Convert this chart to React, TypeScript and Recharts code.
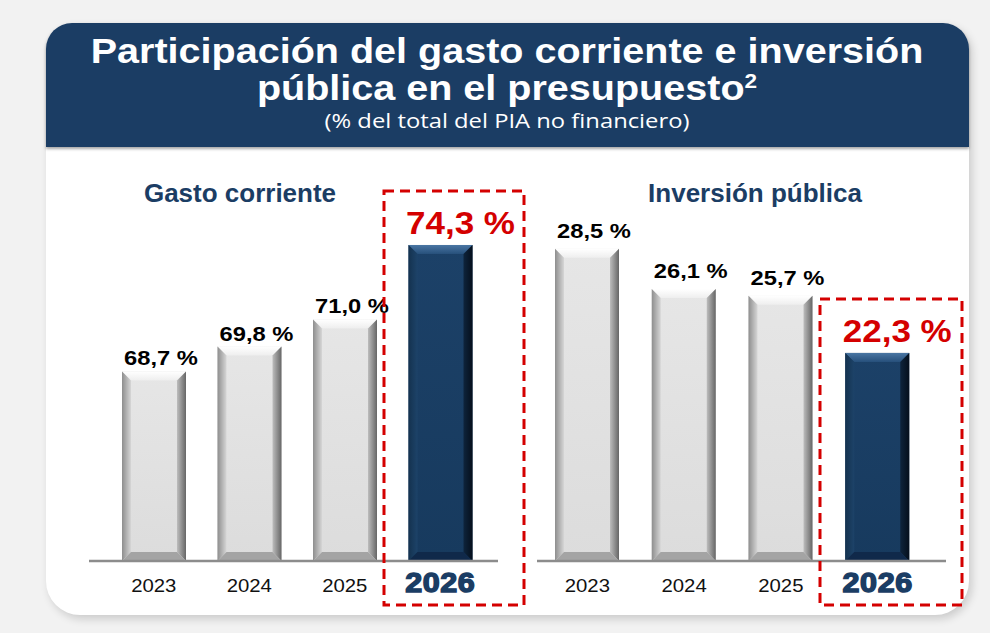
import React from 'react'
import { BarChart, Bar, XAxis, YAxis, LabelList } from 'recharts'

const years = ['2023', '2024', '2025', '2026']
const gastoCorriente = [68.7, 69.8, 71.0, 74.3]
const inversionPublica = [28.5, 26.1, 25.7, 22.3]
const highlightYear = '2026'

const NAVY = '#1b3d64'
const RED = '#d40000'
const FONT = '"Liberation Sans", Arial, sans-serif'
// the source slide is a bit stretched horizontally
const STRETCH = 1.13

const gastoData = years.map((year, i) => ({ year, value: gastoCorriente[i] }))
const inversionData = years.map((year, i) => ({ year, value: inversionPublica[i] }))

const fmt = (v: number) => v.toFixed(1).replace('.', ',') + ' %'

function BevelBar(props: any) {
  const { x, y, width: w, height: h, payload } = props
  if (w == null || h == null || h <= 0) return null
  const hi = payload.year === highlightYear
  const b = 9
  const id = `bv-${hi ? 'n' : 'g'}-${Math.round(x)}`
  const c = hi
    ? { face: '#1c4168', faceB: '#173a5e', top1: '#4a76a3', top2: '#27507b', left1: '#14324f', left2: '#1d4369', right1: '#0e243c', right2: '#050f1c', bot: '#10294a' }
    : { face: '#e6e6e6', faceB: '#dcdcdc', top1: '#ffffff', top2: '#eeeeee', left1: '#8e8e8e', left2: '#d6d6d6', right1: '#bdbdbd', right2: '#666666', bot: '#a4a4a4' }
  return (
    <g>
      <defs>
        <linearGradient id={`${id}-f`} x1="0" y1="0" x2="0" y2="1">
          <stop offset="0" stopColor={c.face} />
          <stop offset="1" stopColor={c.faceB} />
        </linearGradient>
        <linearGradient id={`${id}-t`} x1="0" y1="0" x2="0" y2="1">
          <stop offset="0" stopColor={c.top1} />
          <stop offset="1" stopColor={c.top2} />
        </linearGradient>
        <linearGradient id={`${id}-l`} x1="0" y1="0" x2="1" y2="0">
          <stop offset="0" stopColor={c.left1} />
          <stop offset="1" stopColor={c.left2} />
        </linearGradient>
        <linearGradient id={`${id}-r`} x1="0" y1="0" x2="1" y2="0">
          <stop offset="0" stopColor={c.right1} />
          <stop offset="1" stopColor={c.right2} />
        </linearGradient>
      </defs>
      <rect x={x} y={y} width={w} height={h} fill={`url(#${id}-f)`} />
      <polygon points={`${x},${y} ${x + w},${y} ${x + w - b},${y + b} ${x + b},${y + b}`} fill={`url(#${id}-t)`} />
      <polygon points={`${x},${y} ${x + b},${y + b} ${x + b},${y + h - b} ${x},${y + h}`} fill={`url(#${id}-l)`} />
      <polygon points={`${x + w},${y} ${x + w},${y + h} ${x + w - b},${y + h - b} ${x + w - b},${y + b}`} fill={`url(#${id}-r)`} />
      <polygon points={`${x},${y + h} ${x + b},${y + h - b} ${x + w - b},${y + h - b} ${x + w},${y + h}`} fill={c.bot} />
    </g>
  )
}

function YearTick(props: any) {
  const { x, y, payload } = props
  const hi = payload.value === highlightYear
  return (
    <g transform={`translate(${x},${y + 23}) scale(${STRETCH},1)`}>
      <text
        x={0}
        y={0}
        textAnchor="middle"
        fontFamily={FONT}
        fontSize={hi ? 27 : 18}
        fontWeight={hi ? 700 : 400}
        fill={hi ? NAVY : '#111'}
        stroke={hi ? NAVY : 'none'}
        strokeWidth={hi ? 1.4 : 0}
        letterSpacing={hi ? 0.5 : 0}
      >
        {payload.value}
      </text>
    </g>
  )
}

function makeLabel(grayGap: number) {
  return function ValueLabel(props: any) {
    const { x, y, width, value, index } = props
    const hi = years[index] === highlightYear
    const cx = x + width / 2 + (hi ? 20 : 7)
    const cy = y - (hi ? 11 : grayGap)
    return (
      <g transform={`translate(${cx},${cy}) scale(${STRETCH},1)`}>
        <text
          x={0}
          y={0}
          textAnchor="middle"
          fontFamily={FONT}
          fontWeight={700}
          fontSize={hi ? 31 : 21}
          fill={hi ? RED : '#000'}
        >
          {fmt(value)}
        </text>
      </g>
    )
  }
}

function Panel({ data, domain, padding, margin, gap }: any) {
  return (
    <BarChart width={460} height={455} data={data} margin={margin}>
      <XAxis
        dataKey="year"
        height={40}
        tickLine={false}
        axisLine={{ stroke: '#8c8c8c', strokeWidth: 2.5 }}
        tick={<YearTick />}
        padding={padding}
        interval={0}
      />
      <YAxis hide domain={domain} allowDataOverflow />
      <Bar dataKey="value" barSize={64} shape={<BevelBar />} isAnimationActive={false}>
        <LabelList dataKey="value" content={makeLabel(gap)} />
      </Bar>
    </BarChart>
  )
}

export default function App() {
  return (
    <div style={{ position: 'absolute', left: 0, top: 0, width: 990, height: 633, background: '#f2f2f2', overflow: 'hidden', fontFamily: FONT }}>
      <div
        style={{
          position: 'absolute', left: 46, top: 23, width: 923, height: 592,
          background: '#fff', borderRadius: '26px 26px 34px 34px',
          boxShadow: '3px 4px 9px rgba(0,0,0,0.16)',
        }}
      />
      <div
        style={{
          position: 'absolute', left: 46, top: 23, width: 923, height: 124,
          background: NAVY, borderRadius: '26px 26px 0 0',
          boxShadow: '0 2px 3px rgba(0,0,0,0.35)',
        }}
      />
      <div style={{ position: 'absolute', left: 60, top: 160 }}>
        <Panel data={gastoData} domain={[60.3, 77.4]} padding={{ left: 17, right: 10 }} margin={{ top: 15, right: 22, bottom: 14, left: 29 }} gap={6} />
      </div>
      <div style={{ position: 'absolute', left: 520, top: 160 }}>
        <Panel data={inversionData} domain={[9.9, 32.9]} padding={{ left: 2, right: 20 }} margin={{ top: 15, right: 34, bottom: 14, left: 17 }} gap={11} />
      </div>
      <svg width={990} height={633} style={{ position: 'absolute', left: 0, top: 0, pointerEvents: 'none' }}>
        <g transform={`translate(507,0) scale(${STRETCH},1)`}>
          <text x={0} y={63} textAnchor="middle" fontFamily={FONT} fontWeight={700} fontSize={35} fill="#fff">
            Participación del gasto corriente e inversión
          </text>
          <text x={0} y={100} textAnchor="middle" fontFamily={FONT} fontWeight={700} fontSize={35} fill="#fff">
            pública en el presupuesto<tspan fontSize={20} dy={-12}>2</tspan>
          </text>
        </g>
        <text x={507} y={128} textAnchor="middle" fontFamily='"Open Sans", sans-serif' fontSize={20} fill="#fff" textLength={365} lengthAdjust="spacingAndGlyphs">
          (% del total del PIA no financiero)
        </text>
        <text x={240} y={202} textAnchor="middle" fontFamily={FONT} fontWeight={700} fontSize={26} fill={NAVY}>
          Gasto corriente
        </text>
        <text x={755} y={202} textAnchor="middle" fontFamily={FONT} fontWeight={700} fontSize={26} fill={NAVY}>
          Inversión pública
        </text>
        <rect x={384} y={191} width={140} height={414} fill="none" stroke={RED} strokeWidth={3} strokeDasharray="10 6" />
        <rect x={820} y={299} width={142} height={306} fill="none" stroke={RED} strokeWidth={3} strokeDasharray="10 6" />
      </svg>
    </div>
  )
}
